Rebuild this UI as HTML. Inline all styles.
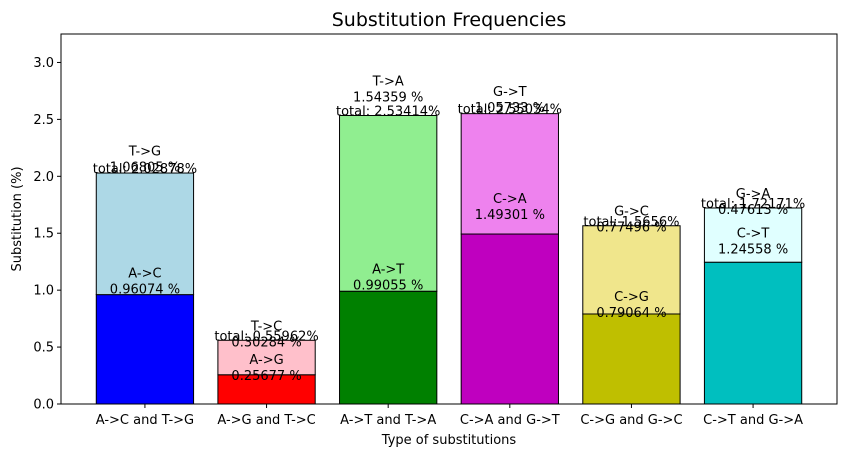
<!DOCTYPE html>
<html><head><meta charset="utf-8"><style>
body{margin:0;background:#fff;font-family:"Liberation Sans","DejaVu Sans",sans-serif}
svg text{font-family:"DejaVu Sans","Liberation Sans",sans-serif}
</style></head><body>
<svg id="c" width="846" height="457" xmlns="http://www.w3.org/2000/svg"></svg>
<script>
const categories=["A->C and T->G","A->G and T->C","A->T and T->A","C->A and G->T","C->G and G->C","C->T and G->A"];
const bottomLabels=["A->C","A->G","A->T","C->A","C->G","C->T"];
const topLabels=["T->G","T->C","T->A","G->T","G->C","G->A"];
const bottomValues=[0.96074,0.25677,0.99055,1.49301,0.79064,1.24558];
const topValues=[1.06805,0.30284,1.54359,1.05733,0.77496,0.47613];
const totalLabels=["2.02878","0.55962","2.53414","2.55034","1.5656","1.72171"];
const yTicks=[0,0.5,1,1.5,2,2.5,3];
const bottomColors=["#0000ff","#ff0000","#008000","#bf00bf","#bfbf00","#00bfbf"];
const topColors=["#add8e6","#ffc0cb","#90ee90","#ee82ee","#f0e68c","#e0ffff"];
const L=61,R=837,T=34,B=404,ymax=3.25,xmin=-0.69,xmax=5.69;
const y=v=>B-(v/ymax)*(B-T);
const x=i=>L+(i-xmin)/(xmax-xmin)*(R-L);
const bw=0.8/(xmax-xmin)*(R-L);
const s=document.getElementById('c');const NS="http://www.w3.org/2000/svg";
function mk(t,a,txt){const e=document.createElementNS(NS,t);for(const k in a)e.setAttribute(k,a[k]);if(txt!=null)e.textContent=txt;s.appendChild(e);return e;}
function lbl(cx,base,lines,name){lines.slice().reverse().forEach((ln,j)=>{const e=mk('text',{x:cx,y:base-j*16,'text-anchor':'middle','font-size':13,fill:'#000'},ln);

});}
const bg=mk('rect',{x:L,y:T,width:R-L,height:B-T,fill:'#fff',stroke:'none'});


categories.forEach((c,i)=>{
 const cx=x(i),b0=bottomValues[i],t0=topValues[i];
 const r1=mk('rect',{x:cx-bw/2,y:y(b0),width:bw,height:y(0)-y(b0),fill:bottomColors[i],stroke:'#000','stroke-width':1});
 
 
 const r2=mk('rect',{x:cx-bw/2,y:y(b0+t0),width:bw,height:y(b0)-y(b0+t0),fill:topColors[i],stroke:'#000','stroke-width':1});
 
 
});
categories.forEach((c,i)=>{
 const cx=x(i),b0=bottomValues[i],t0=topValues[i];
 const offB=Math.max(-2,26*(b0-0.8));
 const offT=Math.max(-6,26*(t0-1.0));
 lbl(cx,y(b0)+3-offB,[bottomLabels[i],b0.toFixed(5)+' %'],'bottom-label');
 lbl(cx,y(b0+t0)-offT,[topLabels[i],t0.toFixed(5)+' %'],'top-label');
 lbl(cx,y(b0+t0),['total: '+totalLabels[i]+'%'],'total-label');
 const tk=mk('line',{x1:cx,x2:cx,y1:B,y2:B+4,stroke:'#000'});
 
 
 const tl=mk('text',{x:cx,y:B+20,'text-anchor':'middle','font-size':13},c);
 
 
});
yTicks.forEach(v=>{
 const tk=mk('line',{x1:L-4,x2:L,y1:y(v),y2:y(v),stroke:'#000'});
 
 
 const tl=mk('text',{x:L-7,y:y(v)+4.5,'text-anchor':'end','font-size':13},v.toFixed(1));
 
 
});
const fr=mk('rect',{x:L,y:T,width:R-L,height:B-T,fill:'none',stroke:'#000','stroke-width':1});


const ti=mk('text',{x:(L+R)/2,y:26,'text-anchor':'middle','font-size':19},'Substitution Frequencies');


const xt=mk('text',{x:(L+R)/2,y:444,'text-anchor':'middle','font-size':13},'Type of substitutions');


const yt=mk('text',{x:21,y:(T+B)/2,'text-anchor':'middle','font-size':13,transform:'rotate(-90 21 '+((T+B)/2)+')'},'Substitution (%)');


</script>
</body></html>
